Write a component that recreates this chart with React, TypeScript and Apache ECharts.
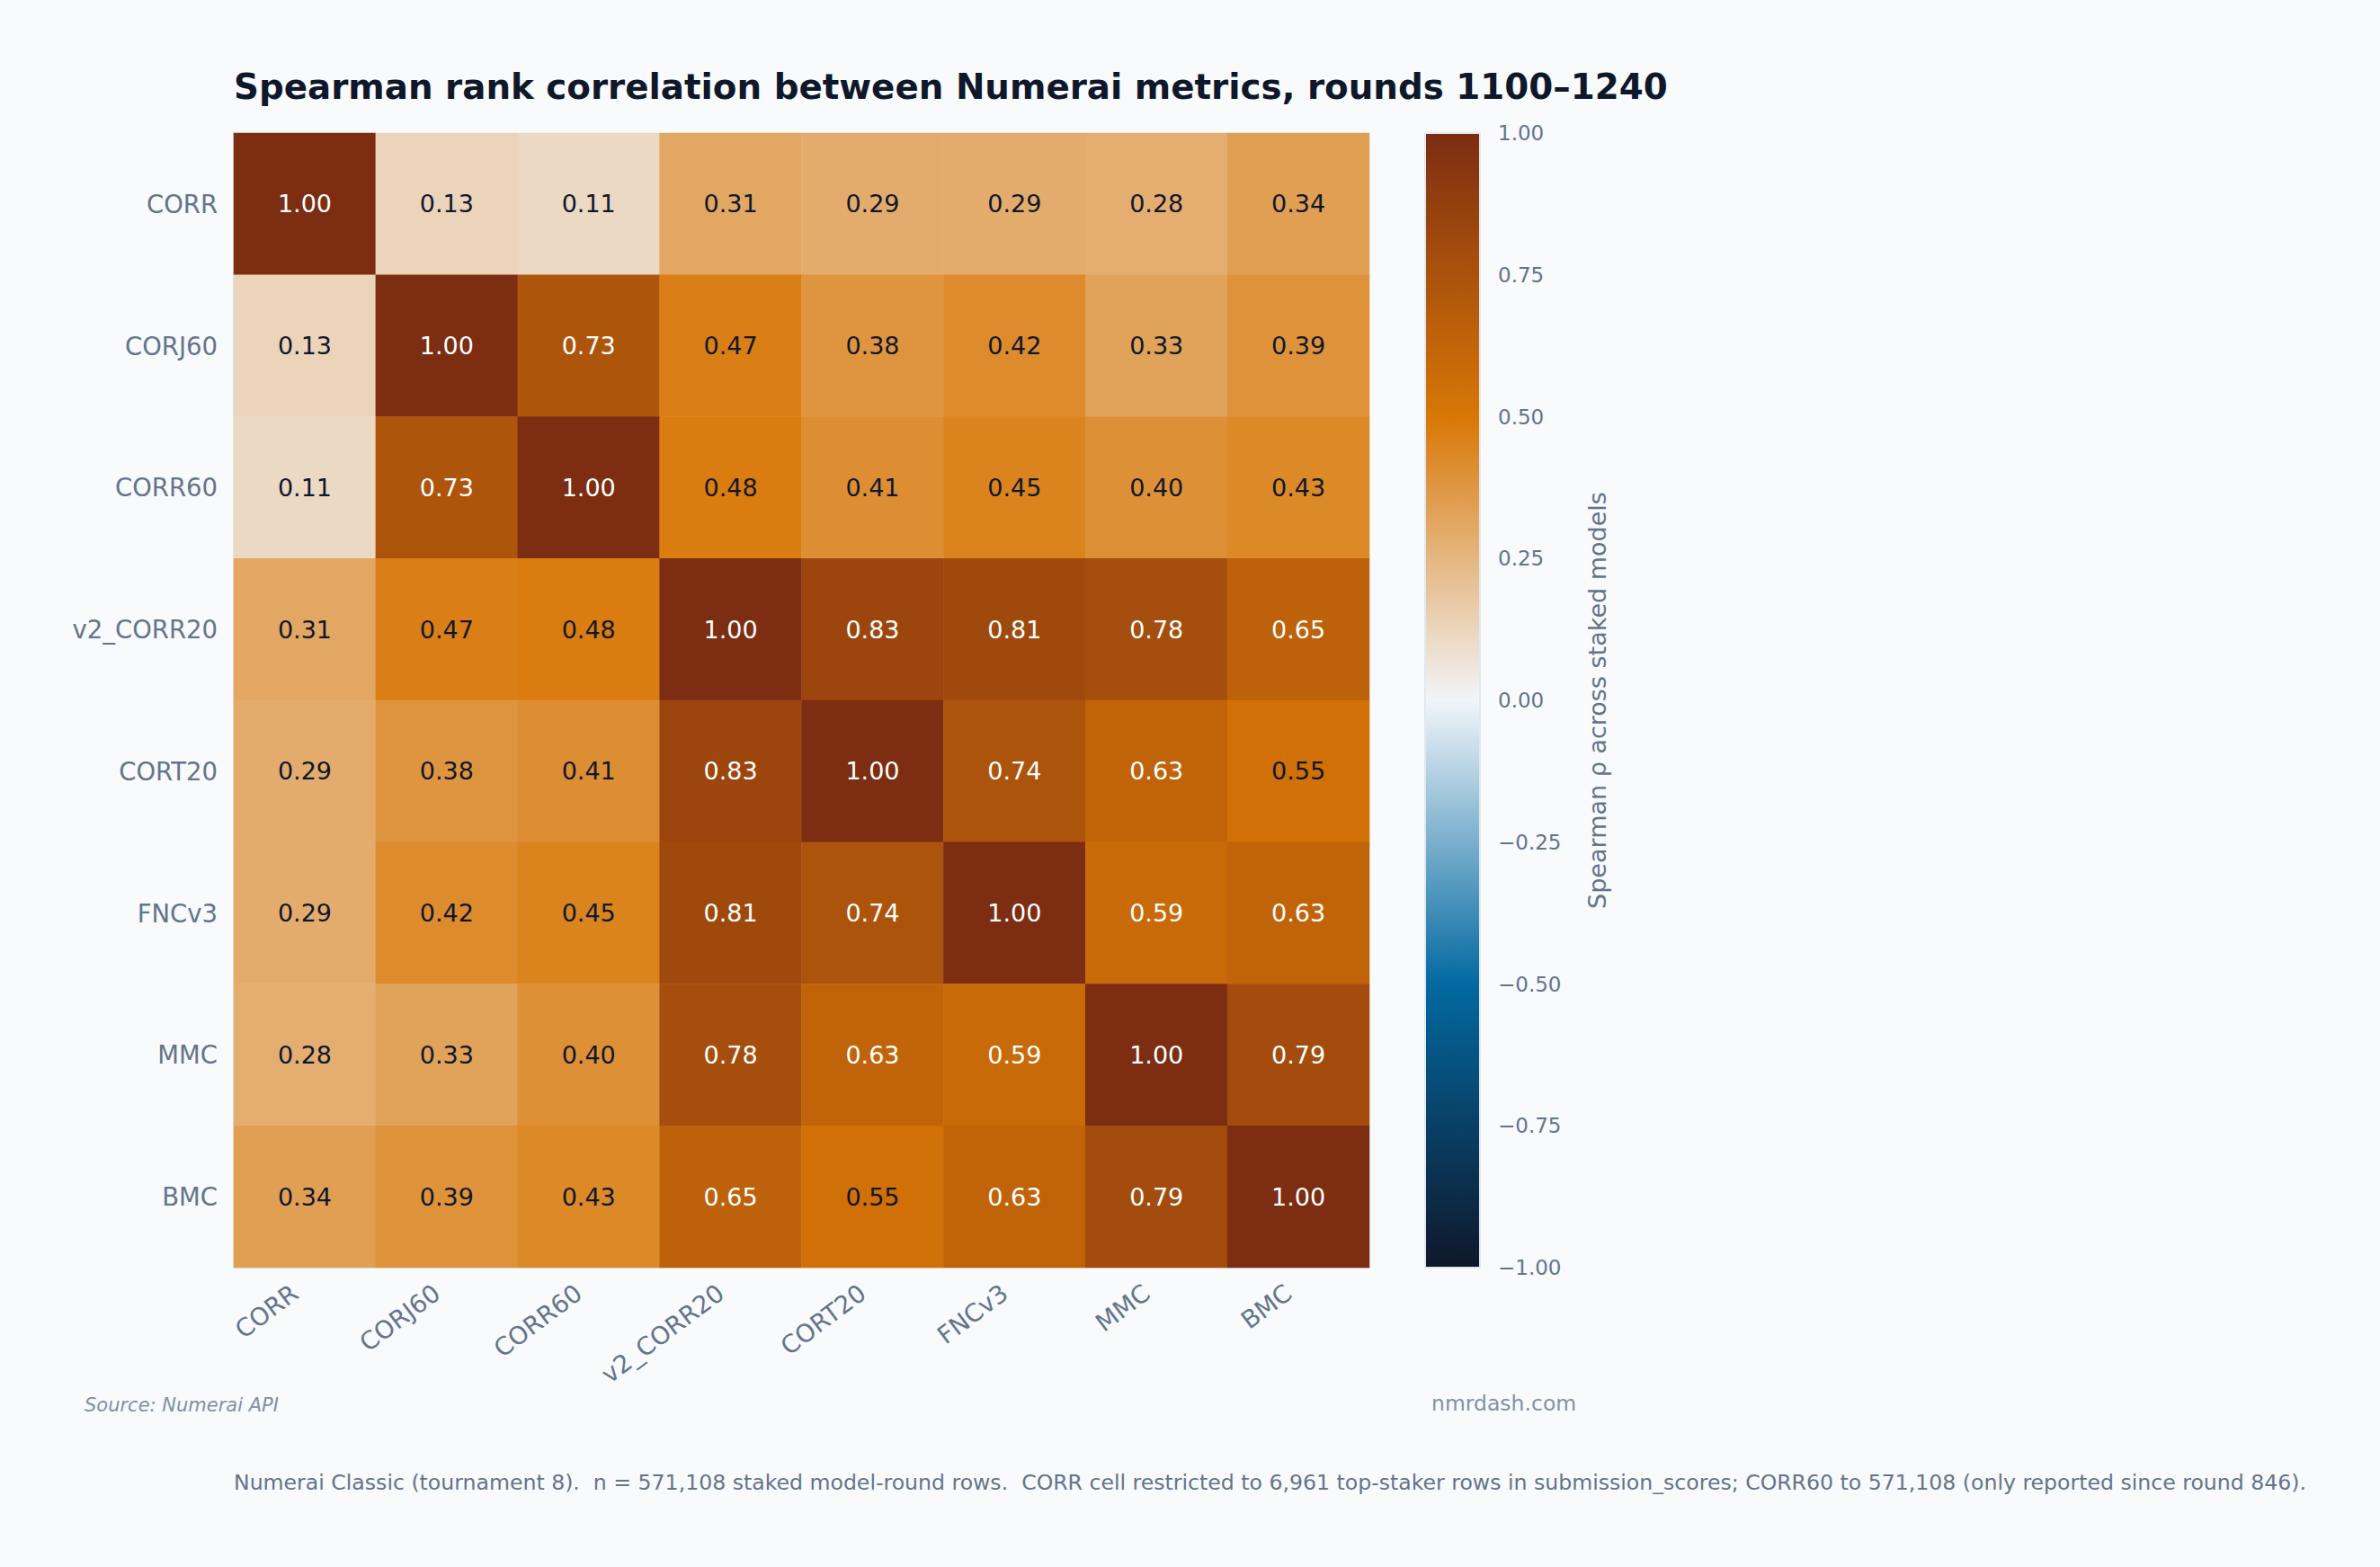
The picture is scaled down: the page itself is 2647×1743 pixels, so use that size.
import React, { useEffect, useRef } from "react";
import * as echarts from "echarts";

const metrics = ["CORR", "CORJ60", "CORR60", "v2_CORR20", "CORT20", "FNCv3", "MMC", "BMC"];

const rowCORR = [1.0, 0.13, 0.11, 0.31, 0.29, 0.29, 0.28, 0.34];
const rowCORJ60 = [0.13, 1.0, 0.73, 0.47, 0.38, 0.42, 0.33, 0.39];
const rowCORR60 = [0.11, 0.73, 1.0, 0.48, 0.41, 0.45, 0.4, 0.43];
const rowV2CORR20 = [0.31, 0.47, 0.48, 1.0, 0.83, 0.81, 0.78, 0.65];
const rowCORT20 = [0.29, 0.38, 0.41, 0.83, 1.0, 0.74, 0.63, 0.55];
const rowFNCv3 = [0.29, 0.42, 0.45, 0.81, 0.74, 1.0, 0.59, 0.63];
const rowMMC = [0.28, 0.33, 0.4, 0.78, 0.63, 0.59, 1.0, 0.79];
const rowBMC = [0.34, 0.39, 0.43, 0.65, 0.55, 0.63, 0.79, 1.0];

const matrix = [rowCORR, rowCORJ60, rowCORR60, rowV2CORR20, rowCORT20, rowFNCv3, rowMMC, rowBMC];

const colorStops = ["#0f172a", "#0369a1", "#f1f5f9", "#d97706", "#7c2d12"];
const colorbarMin = -1;
const colorbarMax = 1;
const colorbarInterval = 0.25;

const titleText = "Spearman rank correlation between Numerai metrics, rounds 1100\u20131240";
const colorbarName = "Spearman \u03c1 across staked models";
const sourceText = "Source: Numerai API";
const siteText = "nmrdash.com";
const footnoteText =
  "Numerai Classic (tournament 8).  n = 571,108 staked model-round rows.  CORR cell restricted to 6,961 top-staker rows in submission_scores; CORR60 to 571,108 (only reported since round 846).";

const FONT = "DejaVu Sans";

export default function App() {
  const ref = useRef<HTMLDivElement>(null);

  useEffect(() => {
    if (!ref.current) return;
    const chart = echarts.init(ref.current, null, { renderer: "svg" });

    const gridL = 260;
    const gridT = 148;
    const gridW = 1263;
    const gridH = 1262;
    const cbL = 1585;
    const cbW = 61;

    const data: any[] = [];
    matrix.forEach((row, yi) => {
      row.forEach((v, xi) => {
        data.push({
          value: [xi, yi, v],
          label: { color: v > 0.56 ? "#ffffff" : "#0f172a" },
        });
      });
    });

    const n = colorStops.length;
    const gradStops = colorStops
      .slice()
      .reverse()
      .map((c, i) => ({ offset: i / (n - 1), color: c }));

    const option: any = {
      animation: false,
      backgroundColor: "#f8fafc",
      textStyle: { fontFamily: FONT },
      grid: [
        { left: gridL, top: gridT, width: gridW, height: gridH },
        { left: cbL, top: gridT, width: cbW, height: gridH },
      ],
      xAxis: [
        {
          type: "category",
          gridIndex: 0,
          data: metrics,
          splitArea: { show: false },
          axisTick: { show: false },
          axisLine: { show: true, lineStyle: { color: "#e2e8f0", width: 2 } },
          axisLabel: {
            rotate: 37,
            fontSize: 27.5,
            color: "#64748b",
            fontFamily: FONT,
            margin: 16,
            padding: [0, 14, 0, 0],
            interval: 0,
          },
        },
        { type: "value", gridIndex: 1, show: false, min: 0, max: 1 },
      ],
      yAxis: [
        {
          type: "category",
          gridIndex: 0,
          data: metrics,
          inverse: true,
          axisTick: { show: false },
          axisLine: { show: true, lineStyle: { color: "#e2e8f0", width: 2 } },
          axisLabel: {
            fontSize: 27.5,
            color: "#64748b",
            fontFamily: FONT,
            margin: 18,
            interval: 0,
          },
        },
        {
          type: "value",
          gridIndex: 1,
          position: "right",
          min: colorbarMin,
          max: colorbarMax,
          interval: colorbarInterval,
          splitLine: { show: false },
          axisLine: { show: false },
          axisTick: { show: false },
          axisLabel: {
            fontSize: 23,
            color: "#64748b",
            fontFamily: FONT,
            margin: 20,
            formatter: (v: number) => (v < 0 ? "\u2212" + Math.abs(v).toFixed(2) : v.toFixed(2)),
          },
          name: colorbarName,
          nameLocation: "middle",
          nameRotate: 90,
          nameGap: 117,
          nameTextStyle: { fontSize: 27, color: "#64748b", fontFamily: FONT },
        },
      ],
      visualMap: {
        show: false,
        min: colorbarMin,
        max: colorbarMax,
        seriesIndex: 0,
        inRange: { color: colorStops },
      },
      series: [
        {
          type: "heatmap",
          xAxisIndex: 0,
          yAxisIndex: 0,
          data,
          label: {
            show: true,
            fontSize: 27,
            fontFamily: FONT,
            formatter: (p: any) => p.value[2].toFixed(2),
          },
          itemStyle: { borderWidth: 0 },
          emphasis: { disabled: true },
        },
      ],
      graphic: [
        {
          type: "rect",
          shape: { x: cbL, y: gridT, width: cbW, height: gridH },
          style: {
            fill: new echarts.graphic.LinearGradient(0, 0, 0, 1, gradStops),
            stroke: "#e2e8f0",
            lineWidth: 2,
          },
          z: 10,
        },
        {
          type: "text",
          x: 260,
          y: 96,
          style: {
            text: titleText,
            font: `bold 38.8px '${FONT}'`,
            fill: "#0f172a",
            align: "left",
            verticalAlign: "middle",
          },
        },
        {
          type: "text",
          x: 94,
          y: 1563,
          style: {
            text: sourceText,
            font: `italic 21px '${FONT}'`,
            fill: "#8291a5",
            align: "left",
            verticalAlign: "middle",
          },
        },
        {
          type: "text",
          x: 1592,
          y: 1561,
          style: {
            text: siteText,
            font: `23.5px '${FONT}'`,
            fill: "#8291a5",
            align: "left",
            verticalAlign: "middle",
          },
        },
        {
          type: "text",
          x: 260,
          y: 1649,
          style: {
            text: footnoteText,
            font: `23.6px '${FONT}'`,
            fill: "#64748b",
            align: "left",
            verticalAlign: "middle",
          },
        },
      ],
    };

    chart.setOption(option);
    return () => chart.dispose();
  }, []);

  return (
    <div
      ref={ref}
      style={{ position: "fixed", left: 0, top: 0, width: 2647, height: 1743 }}
    />
  );
}
